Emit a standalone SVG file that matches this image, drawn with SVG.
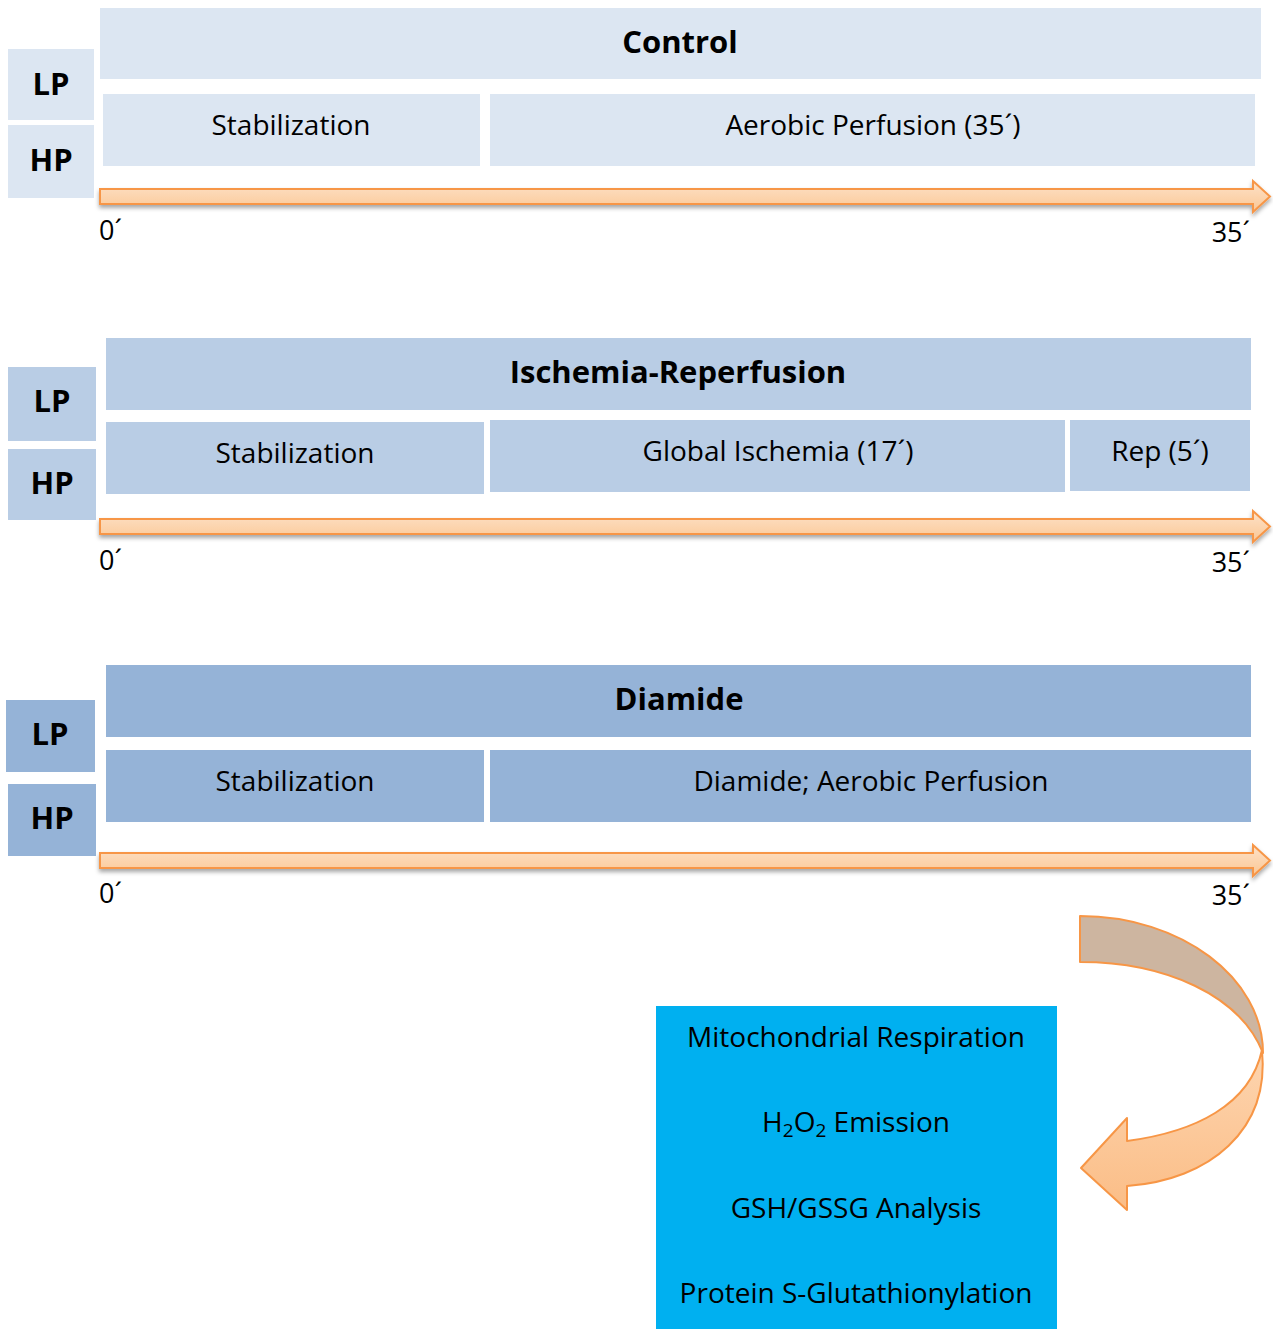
<svg xmlns="http://www.w3.org/2000/svg" width="1273" height="1329" viewBox="0 0 1273 1329">
<defs>
<style>
text{font-family:"Open Sans","Liberation Sans",sans-serif;fill:#000}
.t{font-size:28px;text-anchor:middle}
.b{font-size:31px;font-weight:bold;text-anchor:middle}
.n{font-size:27px}
.m{font-size:28px;text-anchor:middle}
.c1{fill:#DCE6F2}
.c2{fill:#B9CDE5}
.c3{fill:#95B3D7}
.arr{fill:url(#ag);stroke:#F79646;stroke-width:2;filter:url(#sh)}
</style>
<linearGradient id="ag" x1="0" y1="0" x2="0" y2="1">
<stop offset="0" stop-color="#FDE2C9"/>
<stop offset="1" stop-color="#FBC794"/>
</linearGradient>
<linearGradient id="og" x1="0" y1="0" x2="0" y2="1">
<stop offset="0" stop-color="#FDD5B0"/>
<stop offset="1" stop-color="#FBBD86"/>
</linearGradient>
<filter id="sh" x="-5%" y="-50%" width="110%" height="200%">
<feDropShadow dx="0" dy="3" stdDeviation="2" flood-color="#000" flood-opacity="0.35"/>
</filter>
<path id="tl" d="M100,189 L1253,189 L1253,181 L1270,196.5 L1253,212 L1253,204 L100,204 Z"/>
</defs>

<g id="control">
<rect class="c1" x="8" y="49" width="86" height="71"/>
<text class="b" x="51" y="95">LP</text>
<rect class="c1" x="8" y="125" width="86" height="73"/>
<text class="b" x="51" y="171">HP</text>
<rect class="c1" x="100" y="8" width="1161" height="71"/>
<text class="b" x="680" y="53">Control</text>
<rect class="c1" x="103" y="94" width="377" height="72"/>
<text class="t" x="291" y="135">Stabilization</text>
<rect class="c1" x="490" y="94" width="765" height="72"/>
<text class="t" x="873" y="135">Aerobic Perfusion (35´)</text>
</g>

<g id="ir">
<rect class="c2" x="8" y="367" width="88" height="74"/>
<text class="b" x="52" y="412">LP</text>
<rect class="c2" x="8" y="449" width="88" height="71"/>
<text class="b" x="52" y="494">HP</text>
<rect class="c2" x="106" y="338" width="1145" height="72"/>
<text class="b" x="678" y="383">Ischemia-Reperfusion</text>
<rect class="c2" x="106" y="422" width="378" height="72"/>
<text class="t" x="295" y="463">Stabilization</text>
<rect class="c2" x="490" y="420" width="575" height="72"/>
<text class="t" x="778" y="461">Global Ischemia (17´)</text>
<rect class="c2" x="1070" y="420" width="180" height="71"/>
<text class="t" x="1160" y="461">Rep (5´)</text>
</g>

<g id="diamide">
<rect class="c3" x="6" y="700" width="89" height="72"/>
<text class="b" x="50" y="745">LP</text>
<rect class="c3" x="8" y="784" width="88" height="72"/>
<text class="b" x="52" y="829">HP</text>
<rect class="c3" x="106" y="665" width="1145" height="72"/>
<text class="b" x="679" y="710">Diamide</text>
<rect class="c3" x="106" y="750" width="378" height="72"/>
<text class="t" x="295" y="791">Stabilization</text>
<rect class="c3" x="490" y="750" width="761" height="72"/>
<text class="t" x="871" y="791">Diamide; Aerobic Perfusion</text>
</g>

<g id="timelines">
<use href="#tl" class="arr"/>
<text class="n" x="99" y="240">0´</text>
<text class="n" x="1250" y="242" text-anchor="end">35´</text>
<use href="#tl" class="arr" transform="translate(0,330)"/>
<text class="n" x="99" y="570">0´</text>
<text class="n" x="1250" y="572" text-anchor="end">35´</text>
<use href="#tl" class="arr" transform="translate(0,664)"/>
<text class="n" x="99" y="903">0´</text>
<text class="n" x="1250" y="905" text-anchor="end">35´</text>
</g>

<g id="connectors">
<path d="M1080,916 C1181,916 1263,978 1263,1053 C1240,995 1165,962 1080,962 Z" fill="#CDB5A0" stroke="#F79646" stroke-width="2" stroke-linejoin="round"/>
<path d="M1262,1050 C1270,1130 1210,1180 1127,1186 L1127,1210 L1081,1168 L1127,1118 L1127,1141 C1195,1132 1250,1105 1262,1050 Z" fill="url(#og)" stroke="#F79646" stroke-width="2" stroke-linejoin="round"/>
</g>

<g id="analysis">
<rect x="656" y="1006" width="401" height="323" fill="#00B0F0"/>
<text class="m" x="856" y="1047">Mitochondrial Respiration</text>
<text class="m" x="856" y="1132">H<tspan font-size="19" dy="5">2</tspan><tspan dy="-5">O</tspan><tspan font-size="19" dy="5">2</tspan><tspan dy="-5"> Emission</tspan></text>
<text class="m" x="856" y="1218">GSH/GSSG Analysis</text>
<text class="m" x="856" y="1303">Protein S-Glutathionylation</text>
</g>
</svg>
